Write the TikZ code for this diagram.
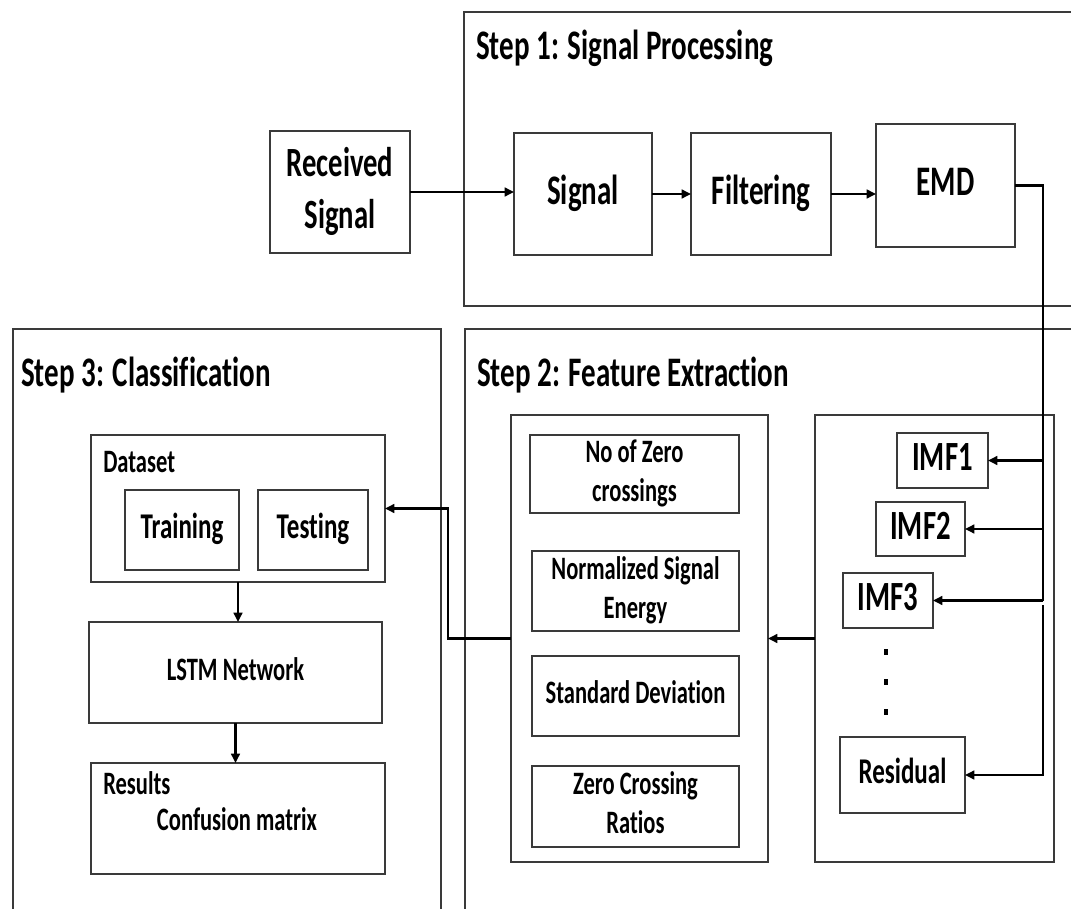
\documentclass[tikz,border=0pt]{standalone}
\usepackage{fontspec}
\setmainfont{Carlito}[Ligatures=NoCommon]
\usetikzlibrary{arrows.meta,calc}
\definecolor{bd}{HTML}{3A3A3A}
% #1 font size, #2 baselineskip, #3 text (rows with \\)
\newcommand{\stx}[3]{\scalebox{1}[1.45]{\fontsize{#1}{#2}\selectfont\bfseries\begin{tabular}{@{}c@{}}#3\end{tabular}}}
\newcommand{\sln}[2]{\scalebox{1}[1.45]{\fontsize{#1}{#1}\selectfont\bfseries #2}}
% box node from corner to corner (pixel coordinates)
\newcommand{\bx}[6]{\node[box,minimum width={(#4-#2)*0.75pt},minimum height={(#5-#3)*0.75pt}] (#1) at ({(#2+#4)/2},{(#3+#5)/2}) {#6};}
\begin{document}
\begin{tikzpicture}[x=0.75pt,y=-0.75pt,
  box/.style={draw=bd,line width=1.1pt,inner sep=0pt,outer sep=0pt},
  conn/.style={draw=black,line width=1.8pt,-{Triangle[length=7pt,width=6.5pt]}},
  wire/.style={draw=black,line width=1.8pt},
  lbl/.style={inner sep=0pt}]
\useasboundingbox (0,0) rectangle (1071,909);
\clip (0,0) rectangle (1071,909);
% stage frames
\bx{s1}{464}{12}{1095}{306}{}
\bx{s2}{465}{329}{1095}{935}{}
\bx{s3}{13}{329}{441}{935}{}
\node[lbl,anchor=base west] (t1) at (476,60) {\sln{21.75pt}{Step 1: Signal Processing}};
\node[lbl,anchor=base west] (t2) at (477,386) {\sln{21.75pt}{Step 2: Feature Extraction}};
\node[lbl,anchor=base west] (t3) at (21,386) {\sln{21.75pt}{Step 3: Classification}};
% step 1
\bx{rs}{270}{131}{410}{253}{\stx{21.5pt}{27pt}{Received\\Signal}}
\bx{sig}{514}{133}{652}{255}{\raisebox{-3pt}{\stx{21.75pt}{26pt}{Signal}}}
\bx{filt}{691}{133}{831}{255}{\raisebox{-3pt}{\stx{21.75pt}{26pt}{Filtering}}}
\bx{emd}{876}{124}{1015}{247}{\raisebox{-3pt}{\stx{21.75pt}{26pt}{EMD}}}
% step 2
\bx{imfs}{815}{415}{1054}{862}{}
\bx{imf1}{897}{433}{988}{488}{\stx{21.5pt}{26pt}{IMF1}}
\bx{imf2}{876}{502}{965}{556}{\stx{21.5pt}{26pt}{IMF2}}
\bx{imf3}{843}{573}{933}{628}{\stx{21.5pt}{26pt}{IMF3}}
\node[fill=black,inner sep=0pt,minimum width=3pt,minimum height=4pt] (d1) at (886,652) {};
\node[fill=black,inner sep=0pt,minimum width=3pt,minimum height=4pt] (d2) at (886,682) {};
\node[fill=black,inner sep=0pt,minimum width=3pt,minimum height=4pt] (d3) at (886,712) {};
\bx{res}{840}{737}{965}{813}{\raisebox{-4pt}{\stx{18.75pt}{22pt}{Residual}}}
\bx{feat}{511}{415}{768}{862}{}
\bx{f1}{530}{435}{739}{513}{\stx{16.9pt}{20pt}{No of Zero\\crossings}}
\bx{f2}{532}{551}{739}{631}{\stx{16.9pt}{20pt}{Normalized Signal\\Energy}}
\bx{f3}{532}{656}{739}{736}{\stx{16.9pt}{20pt}{Standard Deviation}}
\bx{f4}{532}{766}{739}{847}{\stx{16.9pt}{20pt}{Zero Crossing\\Ratios}}
% step 3
\bx{ds}{91}{435}{385}{582}{}
\node[lbl,anchor=base west] (dsl) at (103,472) {\sln{16.9pt}{Dataset}};
\bx{tr}{125}{490}{239}{570}{\stx{18.75pt}{22pt}{Training}}
\bx{te}{258}{490}{368}{570}{\stx{18.75pt}{22pt}{Testing}}
\bx{lstm}{89}{622}{382}{723}{\stx{16.9pt}{20pt}{LSTM Network}}
\bx{resu}{91}{763}{385}{874}{}
\node[lbl,anchor=base west] (rsl) at (103,794) {\sln{16.9pt}{Results}};
\node[lbl,anchor=base] (cm) at (237,830) {\sln{16.9pt}{Confusion matrix}};
% connectors
\draw[conn] (rs.east) -- (rs.east -| sig.west);
\draw[conn] (sig.east) -- (filt.west);
\draw[conn] (filt.east) -- (filt.east -| emd.west);
\coordinate (bx) at (1043,0);
\coordinate (rtop) at (1043,605);
\draw[wire] (emd.east) -| (bx |- imf3.east);
\draw[conn] (bx |- imf1.east) -- (imf1.east);
\draw[conn] (bx |- imf2.east) -- (imf2.east);
\draw[conn] (bx |- imf3.east) -- (imf3.east);
\draw[conn] (rtop) |- (res.east);
\draw[conn] (imfs.west) -- (feat.east);
\coordinate (bend) at (448,0);
\draw[conn] (feat.west) -- (bend |- feat.west) |- (ds.east);
\draw[conn] (ds.south) -- (ds.south |- lstm.north);
\draw[conn] (lstm.south) -- (lstm.south |- resu.north);
\end{tikzpicture}
\end{document}
